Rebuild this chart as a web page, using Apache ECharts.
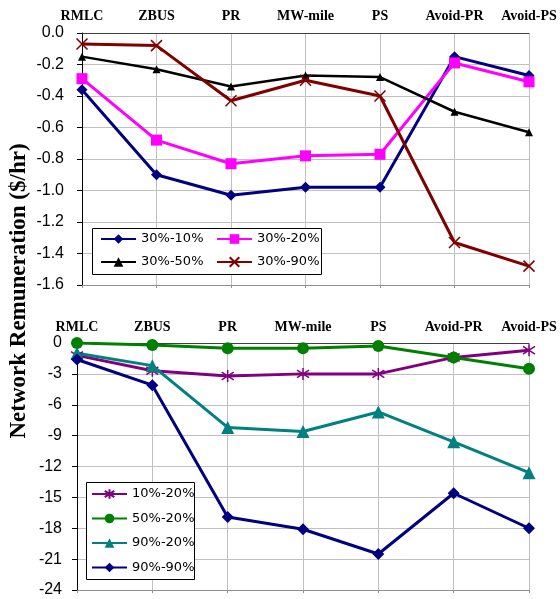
<!DOCTYPE html>
<html>
<head>
<meta charset="utf-8">
<script src="https://cdn.jsdelivr.net/npm/echarts@6/dist/echarts.min.js"></script>
<style>
  html, body { margin: 0; padding: 0; background: #fff; }
  #chart { width: 560px; height: 599px; }
</style>
</head>
<body>
<div id="chart"></div>
<script>
// Pricing methods along the horizontal axis
const methods = ['RMLC', 'ZBUS', 'PR', 'MW-mile', 'PS', 'Avoid-PR', 'Avoid-PS'];

// Upper panel: network remuneration ($/hr)
const upperNames = ['30%-10%', '30%-20%', '30%-50%', '30%-90%'];
const s30_10 = [-0.36, -0.90, -1.03, -0.98, -0.98, -0.15, -0.27];
const s30_20 = [-0.29, -0.68, -0.83, -0.78, -0.77, -0.19, -0.31];
const s30_50 = [-0.15, -0.23, -0.34, -0.27, -0.28, -0.50, -0.63];
const s30_90 = [-0.07, -0.08, -0.43, -0.30, -0.40, -1.33, -1.48];

// Lower panel: network remuneration ($/hr)
const lowerNames = ['10%-20%', '50%-20%', '90%-20%', '90%-90%'];
const s10_20 = [-1.2, -2.7, -3.2, -3.0, -3.0, -1.4, -0.7];
const s50_20 = [0.0, -0.2, -0.5, -0.5, -0.3, -1.4, -2.5];
const s90_20 = [-1.0, -2.2, -8.2, -8.6, -6.7, -9.6, -12.6];
const s90_90 = [-1.6, -4.1, -16.9, -18.1, -20.5, -14.6, -18.0];

const upperTicks = { min: -1.6, max: 0, interval: 0.2 };
const lowerTicks = { min: -24, max: 0, interval: 3 };

const crossPath = 'path://M0,0L10,10M10,0L0,10';
const starPath = 'path://M5,0L5,10M0.8,1.8L9.2,8.2M9.2,1.8L0.8,8.2';

const gridColor = '#c0c0c0';
const serifBold = { fontFamily: 'Liberation Serif', fontWeight: 'bold', fontSize: 14, color: '#000' };
const valueFont = { fontFamily: 'Liberation Sans', fontSize: 16, color: '#000' };
const legendFont = { fontFamily: 'DejaVu Sans', fontSize: 13, color: '#000', lineHeight: 14 };

function lineSeries(name, data, idx, color, symbol, size, width) {
  return {
    name: name,
    type: 'line',
    xAxisIndex: idx,
    yAxisIndex: idx,
    data: data,
    symbol: symbol,
    symbolSize: size,
    showAllSymbol: true,
    animation: false,
    lineStyle: { color: color, width: width },
    itemStyle: { color: color, borderColor: color, borderWidth: symbol.indexOf('path://') === 0 ? 1.5 : 0 }
  };
}

function catAxis(gridIndex, margin) {
  return {
    type: 'category',
    gridIndex: gridIndex,
    position: 'top',
    data: methods,
    boundaryGap: false,
    axisLine: { show: true, lineStyle: { color: '#404040', width: 1 } },
    axisTick: { show: false },
    axisLabel: Object.assign({ margin: margin, interval: 0 }, serifBold),
    splitLine: { show: true, lineStyle: { color: gridColor, width: 1 } }
  };
}

function tickAxis(gridIndex) {
  return {
    type: 'category',
    gridIndex: gridIndex,
    position: 'bottom',
    data: methods,
    boundaryGap: false,
    axisLine: { show: true, lineStyle: { color: '#909090', width: 1 } },
    axisTick: { show: true, length: 3, alignWithLabel: true, lineStyle: { color: '#909090' } },
    axisLabel: { show: false },
    splitLine: { show: false }
  };
}

function valAxis(gridIndex, ticks, margin, fmt) {
  return {
    type: 'value',
    gridIndex: gridIndex,
    min: ticks.min,
    max: ticks.max,
    interval: ticks.interval,
    axisLine: { show: true, onZero: false, lineStyle: { color: '#000', width: 1 } },
    axisTick: { show: true, length: 5, lineStyle: { color: '#000' } },
    axisLabel: Object.assign({ margin: margin, formatter: fmt }, valueFont),
    splitLine: { show: true, lineStyle: { color: gridColor, width: 1 } }
  };
}

function legendBlock(names, left, top, gap) {
  return {
    data: names, orient: 'vertical', z: 10,
    left: left, top: top, itemWidth: 35, itemHeight: 12, itemGap: gap,
    itemTextGap: 3, textStyle: legendFont, padding: 0
  };
}

const chart = echarts.init(document.getElementById('chart'), null, { renderer: 'canvas' });

chart.setOption({
  backgroundColor: '#fff',
  animation: false,
  grid: [
    { left: 82, right: 31, top: 33, bottom: 314 },
    { left: 77, right: 31, top: 343, bottom: 9 }
  ],
  xAxis: [catAxis(0, 10), catAxis(1, 9), tickAxis(0), tickAxis(1)],
  yAxis: [
    valAxis(0, upperTicks, 18, v => v.toFixed(1)),
    valAxis(1, lowerTicks, 15, v => String(Math.round(v)))
  ],
  legend: [
    legendBlock([upperNames[0], upperNames[2]], 100, 232, 9),
    legendBlock([upperNames[1], upperNames[3]], 216, 232, 9),
    legendBlock(lowerNames, 91, 487, 10.5)
  ],
  graphic: [
    {
      type: 'rect', z: 3, silent: true,
      shape: { x: 92.5, y: 228.5, width: 229, height: 46 },
      style: { fill: '#fff', stroke: '#000', lineWidth: 1 }
    },
    {
      type: 'rect', z: 3, silent: true,
      shape: { x: 86.5, y: 482.5, width: 108, height: 97 },
      style: { fill: '#fff', stroke: '#000', lineWidth: 1 }
    },
    {
      type: 'text', z: 3, silent: true,
      x: 19, y: 291, rotation: Math.PI / 2,
      style: {
        text: 'Network Remuneration ($/hr)',
        font: 'bold 23px "Liberation Serif"',
        fill: '#000', textAlign: 'center', textVerticalAlign: 'middle'
      }
    }
  ],
  series: [
    lineSeries(upperNames[0], s30_10, 0, '#000080', 'diamond', 11, 3),
    lineSeries(upperNames[1], s30_20, 0, '#ff00ff', 'rect', 11, 3),
    lineSeries(upperNames[2], s30_50, 0, '#000000', 'triangle', 8, 2.5),
    lineSeries(upperNames[3], s30_90, 0, '#800000', crossPath, 11, 3),
    lineSeries(lowerNames[0], s10_20, 1, '#800080', starPath, 12, 3),
    lineSeries(lowerNames[1], s50_20, 1, '#008000', 'circle', 12, 3),
    lineSeries(lowerNames[2], s90_20, 1, '#008080', 'triangle', 13, 3),
    lineSeries(lowerNames[3], s90_90, 1, '#000080', 'diamond', 12, 3)
  ]
});
</script>
</body>
</html>
